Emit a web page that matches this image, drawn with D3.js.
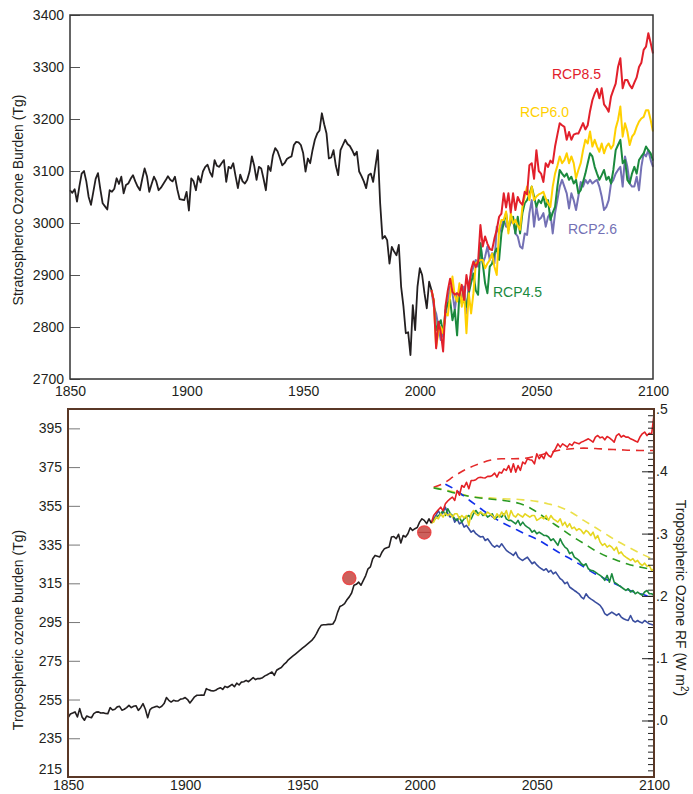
<!DOCTYPE html>
<html>
<head>
<meta charset="utf-8">
<script src="https://cdn.jsdelivr.net/npm/d3@7"></script>
<style>
body{margin:0;background:#fff;}
svg text{font-family:"Liberation Sans",Arial,Helvetica,sans-serif;font-size:14px;fill:#231f20;}
</style>
</head>
<body>
<svg id="chart" width="693" height="794"></svg>
<script>
// ---------- data ----------
var histStart = 1850, rcpStart = 2005;

var yearTicks  = [1850, 1900, 1950, 2000, 2050, 2100];
var stratTicks = [2700, 2800, 2900, 3000, 3100, 3200, 3300, 3400];
var tropTicks  = [215, 235, 255, 275, 295, 315, 335, 355, 375, 395];
var rfTicks    = [0, 0.1, 0.2, 0.3, 0.4, 0.5];

// stratospheric ozone burden (Tg), 1850-2005
var stratHist = [
 3063,3058,3065,3041,3070,3095,3100,3080,3050,3035,
 3060,3085,3096,3065,3038,3032,3026,3063,3060,3066,
 3086,3075,3089,3057,3073,3076,3085,3092,3080,3070,
 3063,3085,3105,3090,3060,3075,3089,3080,3063,3068,
 3075,3082,3090,3083,3080,3089,3065,3046,3045,3044,
 3060,3024,3086,3080,3063,3090,3078,3099,3108,3112,
 3098,3089,3121,3110,3108,3115,3121,3079,3108,3105,
 3115,3090,3067,3093,3080,3076,3083,3099,3128,3110,
 3083,3108,3105,3085,3063,3110,3100,3130,3144,3138,
 3125,3111,3115,3123,3126,3128,3150,3156,3155,3150,
 3134,3099,3124,3115,3140,3160,3172,3178,3211,3190,
 3172,3124,3126,3140,3110,3092,3140,3150,3160,3152,
 3148,3140,3130,3137,3099,3090,3080,3067,3092,3095,
 3079,3110,3140,3038,2970,2975,2967,2922,2954,2945,
 2938,2958,2877,2839,2788,2790,2746,2842,2794,2877,
 2913,2900,2865,2836,2887,2871];

// stratospheric projections, 2005-2100
var stratRcp85 = [
 2871,2850,2759,2810,2790,
 2753,2839,2870,2893,2868,2862,2865,2860,2881,2852,
 2900,2870,2910,2926,2915,2925,2996,2955,2974,2960,
 2950,2948,2970,2987,3012,3018,3057,3030,3057,3020,
 3057,3025,3050,3040,3035,3060,3055,3111,3115,3085,
 3140,3100,3095,3079,3115,3108,3120,3115,3147,3170,
 3192,3188,3185,3160,3175,3160,3170,3172,3172,3182,
 3192,3180,3188,3215,3236,3249,3258,3240,3259,3228,
 3222,3214,3243,3256,3268,3300,3317,3259,3275,3275,
 3265,3259,3270,3280,3300,3308,3333,3339,3365,3346,
 3326];
var stratRcp60 = [
 2871,2850,2762,2790,2800,
 2788,2826,2822,2860,2897,2860,2849,2884,2839,2865,
 2788,2865,2826,2865,2922,2926,2929,2929,2913,2922,
 2929,2941,2916,2900,2987,3006,3006,3022,2980,3019,
 2999,3006,2995,2987,3031,3051,3070,3044,3070,3044,
 3051,3055,3057,3060,3047,3038,3031,3070,3095,3110,
 3128,3115,3121,3134,3115,3128,3115,3086,3102,3115,
 3140,3160,3153,3176,3147,3160,3147,3137,3153,3134,
 3147,3153,3143,3150,3182,3198,3224,3166,3192,3176,
 3150,3166,3172,3185,3195,3201,3204,3217,3217,3198,
 3176];
var stratRcp45 = [
 2871,2850,2794,2805,2813,
 2788,2832,2845,2852,2813,2833,2784,2865,2845,2852,
 2839,2865,2885,2903,2870,2862,2961,2922,2884,2865,
 2916,2922,2942,2951,2929,2980,3000,3019,2987,3006,
 3012,2980,3012,2980,3019,3038,3044,3055,3070,3051,
 3031,3044,3038,3051,3031,3044,3006,3020,3031,3070,
 3102,3095,3089,3095,3083,3089,3076,3083,3057,3063,
 3079,3095,3115,3134,3128,3108,3095,3083,3092,3102,
 3083,3089,3076,3102,3140,3150,3160,3115,3121,3083,
 3076,3095,3108,3095,3121,3128,3134,3147,3140,3134,
 3120];
var stratRcp26 = [
 2871,2839,2826,2800,2775,
 2788,2820,2850,2878,2865,2833,2865,2852,2858,2878,
 2826,2884,2900,2916,2929,2916,2961,2922,2935,2955,
 2929,2942,2922,2993,2980,2993,3006,2993,2993,3000,
 3006,2980,2974,2955,2951,2980,2977,3019,3044,2993,
 3031,3006,3010,3019,2993,3012,3019,2980,3019,3044,
 3070,3083,3070,3057,3028,3057,3044,3025,3051,3079,
 3070,3083,3076,3083,3076,3080,3083,3070,3051,3025,
 3031,3044,3076,3083,3095,3102,3108,3070,3128,3108,
 3076,3070,3070,3089,3063,3108,3134,3128,3140,3121,
 3108];

// tropospheric ozone burden (Tg), 1850-2005
var tropHist = [
 245.6,247.5,248,248.6,246,250.3,246,244.3,246.5,246,
 245.6,247.7,248.5,248.6,248,248.2,247.8,247.7,250.8,249.6,
 250,251.2,251.5,249.5,250,250.8,252,250.8,251.5,251.8,
 249.4,250.8,252.9,250,245.6,249.8,250.8,251.2,251.5,250.8,
 251.5,252.9,256,254.6,253.7,254.6,254.2,254.3,255.2,255.4,
 256,255,253.2,254.8,256.4,257.2,257.2,257.3,257.2,260.6,
 260,259.6,259.4,259.8,260.6,261.1,260.2,261.8,261.2,262,
 262.8,261.6,263.5,262.5,264,264.2,264.9,264.2,265.3,266.3,
 265.3,265.8,265.8,266.3,267.2,267.8,268.5,269.2,267.5,270.1,
 270.9,271.5,273,274,275.5,276.5,277.5,278.5,279.5,280.5,
 281.5,282.5,283.5,284.5,285.5,287,289,291.5,293.3,293.6,
 293.6,293.8,293.8,294,296,300,303,303.6,304.5,306.5,
 308,310,314,314.5,315.6,314,316.5,319,322.5,323.5,
 327.7,329.4,329,328.6,331.2,332.9,333.4,333.8,338.9,339.2,
 338,340.3,335.8,339.7,338.9,340.6,343.7,342.3,343.2,343.8,
 346.6,348.3,347.5,345.8,348.3,346.1];

// tropospheric projections (solid), 2005-2100
var tropRcp85 = [
 346.1,350,351.5,353,354.3,
 352.5,356.1,357.5,358.6,359.5,357.8,362.9,360.5,365.5,364.6,
 367.2,363.8,368.1,368.1,368.5,369.5,369.8,369.5,369.4,370.2,
 370.2,370.7,371.9,369.8,372.4,371.9,374.1,373.3,375.8,372.4,
 376.7,372.4,375.8,373.3,377.6,376.7,379.3,378.8,378.5,376.7,
 381.9,379.3,381,379.3,382.7,381,380.2,382.7,384.5,387,
 385.3,387,386.2,385.3,387,386.2,387.9,387.4,387,387.9,
 388.4,389,389.6,388.8,387.9,390.5,391.3,390.1,390.5,389.1,
 390.8,390.1,389.1,387.9,391.3,392.2,390.5,391.3,390.5,390.5,
 389.6,389.1,388.5,387.9,390.5,392.2,393.1,391.3,392.5,392.2,
 402];
var tropRcp60 = [
 346.1,346.6,349.2,348.3,350.9,
 349.2,351.2,350,350.9,349.2,350.9,350.9,348.3,350,348.8,
 350,344.9,350.9,352.6,350.9,350,351.8,350.9,350,351.8,
 350.9,350,348.3,350.9,349.2,351.8,350,352.6,348.3,352.6,
 350,349.2,350.9,350,349.2,350.9,350,349.2,350,350,
 347.5,348.3,349.2,348.3,350,347.5,350,348.3,347.5,346.6,
 348.3,344.9,346.6,344,345.8,343.2,344,342.3,343.2,342.3,
 340.6,342.3,341.4,339.7,341.4,338,339.7,336.3,334.6,335.5,
 333.7,334.6,333.7,332,333.7,330.3,331.2,329.4,328.5,327.7,
 326.8,327.7,326,326.8,325.1,324.2,325.4,323.8,324.2,321.7,
 322.5];
var tropRcp45 = [
 346.1,347.5,348.8,350,350.9,
 352.6,350,353.5,351.2,350,348.3,347.5,349.2,346.6,348.3,
 349.2,350,348.3,350.9,352.6,350.9,351.8,350,350.9,349.2,
 350,350.9,348.3,349.2,350,349.2,350.9,348.3,347.5,347.5,
 346.6,345.7,347.5,344.9,346.6,344.9,344,343.2,341.4,342.3,
 340.6,341.4,340.6,339.7,339.7,338.9,337.1,338,336.3,334.6,
 338,335.4,333.7,332.8,330.3,331.1,328.5,327.7,326.8,325.1,
 324.2,325.1,322.5,321.7,321.5,320.8,319.9,319.1,318.2,316.5,
 319.1,315.6,319.9,315.6,314.8,313.9,313.1,312.2,311.3,312.2,
 310.5,311.3,309.6,310.5,309.6,308.8,310.5,311.3,309.6,309.6,
 308.8];
var tropRcp26 = [
 346.1,348.3,350,352.6,350,
 351.8,354.3,350.9,349.2,350,346.6,348.3,345.7,346.6,344,
 344.9,343.2,341.4,342.3,340.6,339.7,338.9,339.2,337.1,338,
 336.3,334.6,333.7,334.6,333.7,335.4,333.7,332,331.1,330.3,
 329.4,331.1,328.5,327.5,326.8,327.7,328.5,326.8,325.1,326,
 324.5,323.4,322.5,321.7,322.5,320.8,321.7,319.9,320.8,319.1,
 317.4,316.5,314.8,315.6,313.1,312.2,311.3,310.5,309.6,307.9,
 307,309.6,307.9,307,306.2,305.3,304.5,303.6,301.9,299.3,
 298.4,299.3,300.1,299.3,298.4,299.3,297.6,296.7,296.2,295.8,
 298.4,295.8,295,295.8,295,294.5,295.8,295,294.1,293.7,
 293.3];

// smooth (dashed) projections
var dashYears = [2006,2010,2015,2020,2025,2030,2035,2040,2045,2050,2055,2060,2065,2070,2075,2080,2085,2090,2095,2100];
var dashRcp85 = [364.6,366.5,370.5,374,376.5,378.5,379.3,379.3,379.6,380.8,382.4,383.8,384.5,384.8,384.6,384.2,384,383.7,383.6,383.6];
var dashRcp60 = [364.3,363.6,362,360.3,359.4,359.1,358.6,358.5,358,357.3,356,354.3,351.4,347.5,343.8,340,336.3,333.1,330,327.2];
var dashRcp45 = [364.3,363.2,361.6,360.2,359.2,358.5,357.9,357,355.2,351.8,347.5,343.5,339.3,335.6,331.8,328.8,326.5,324.5,323.2,322];
var dashYears26 = [2011,2015,2020,2025,2030,2035,2040,2045,2050,2055,2060,2065,2070,2075,2080,2085,2090,2095,2100];
var dashRcp26 = [366.2,363.5,359,354.5,350.2,346.5,343.5,340.5,337.8,334.2,330.5,327.2,323.5,319.8,316.8,313.8,311.2,309.3,307.5];

// observation markers
var obsYears  = [1970, 2002];
var obsValues = [317.7, 341.3];

var rcpNames = ["RCP8.5", "RCP6.0", "RCP4.5", "RCP2.6"];

// ---------- helpers ----------
function series(start, vals){
    return vals.map(function(v, i){ return [start + i, v]; });
}
function pairs(years, vals){
    return vals.map(function(v, i){ return [years[i], v]; });
}

var svg = d3.select("#chart");

// ---------- top panel : stratosphere ----------
var xTop = d3.scaleLinear().domain([1850, 2100]).range([70, 653]);
var yTop = d3.scaleLinear().domain([2700, 3400]).range([379, 15]);
var lineTop = d3.line().x(function(d){ return xTop(d[0]); }).y(function(d){ return yTop(d[1]); });

var gTop = svg.append("g").attr("class", "top");

var topSeries = [
    {name: rcpNames[3], vals: stratRcp26, color: "#7471b5"},
    {name: rcpNames[2], vals: stratRcp45, color: "#1b8a3e"},
    {name: rcpNames[1], vals: stratRcp60, color: "#ffd000"},
    {name: rcpNames[0], vals: stratRcp85, color: "#e2202b"}
];
topSeries.forEach(function(s){
    gTop.append("path")
        .datum(series(rcpStart, s.vals))
        .attr("d", lineTop)
        .attr("fill", "none")
        .attr("stroke", s.color)
        .attr("stroke-width", 2)
        .attr("stroke-linejoin", "round");
});
gTop.append("path")
    .datum(series(histStart, stratHist))
    .attr("d", lineTop)
    .attr("fill", "none")
    .attr("stroke", "#231f20")
    .attr("stroke-width", 1.8)
    .attr("stroke-linejoin", "round");

// scenario labels
var topLabelPos = {"RCP8.5": [552, 79], "RCP6.0": [520, 117], "RCP2.6": [568, 234], "RCP4.5": [493, 297]};
topSeries.forEach(function(s){
    gTop.append("text")
        .attr("x", topLabelPos[s.name][0])
        .attr("y", topLabelPos[s.name][1])
        .style("fill", s.color)
        .text(s.name);
});

// axes
gTop.append("g")
    .attr("transform", "translate(70,0)")
    .call(d3.axisLeft(yTop).tickValues(stratTicks).tickSize(-10).tickPadding(6).tickFormat(d3.format("d")))
    .call(function(g){ g.select(".domain").remove(); g.selectAll("line").attr("stroke", "#555"); });
gTop.append("g")
    .attr("transform", "translate(0,379)")
    .call(d3.axisBottom(xTop).tickValues(yearTicks).tickSize(0).tickPadding(7).tickFormat(d3.format("d")))
    .call(function(g){ g.select(".domain").remove(); });
gTop.selectAll(".tick text").style("font-size", "14px").attr("font-family", null);

gTop.append("rect")
    .attr("x", 70).attr("y", 15).attr("width", 583).attr("height", 364)
    .attr("fill", "none").attr("stroke", "#333").attr("stroke-width", 1.5);

gTop.append("text")
    .attr("transform", "translate(23,200) rotate(-90)")
    .attr("text-anchor", "middle")
    .text("Stratospheroc Ozone Burden (Tg)");

// ---------- bottom panel : troposphere ----------
var xBot = d3.scaleLinear().domain([1850, 2100]).range([68, 654]);
var yBot = d3.scaleLinear().domain([215, 405]).range([777, 409]);
var yRF  = d3.scaleLinear().domain([-0.0907, 0.5]).range([777, 409]);
var lineBot = d3.line().x(function(d){ return xBot(d[0]); }).y(function(d){ return yBot(d[1]); });
var smoothBot = d3.line().curve(d3.curveMonotoneX).x(function(d){ return xBot(d[0]); }).y(function(d){ return yBot(d[1]); });

var gBot = svg.append("g").attr("class", "bottom");

// dashed smooth projections
var dashSeries = [
    {data: pairs(dashYears, dashRcp85), color: "#e42a2a"},
    {data: pairs(dashYears, dashRcp60), color: "#ebe04a"},
    {data: pairs(dashYears, dashRcp45), color: "#2a9a22"},
    {data: pairs(dashYears26, dashRcp26), color: "#1230ea"}
];
dashSeries.forEach(function(s){
    gBot.append("path")
        .datum(s.data)
        .attr("d", smoothBot)
        .attr("fill", "none")
        .attr("stroke", s.color)
        .attr("stroke-width", 1.6)
        .attr("stroke-dasharray", "8,6");
});

// solid projections
var botSeries = [
    {vals: tropRcp26, color: "#3a4e9f"},
    {vals: tropRcp45, color: "#1b8a3e"},
    {vals: tropRcp60, color: "#e6d620"},
    {vals: tropRcp85, color: "#e42126"}
];
botSeries.forEach(function(s){
    gBot.append("path")
        .datum(series(rcpStart, s.vals))
        .attr("d", lineBot)
        .attr("fill", "none")
        .attr("stroke", s.color)
        .attr("stroke-width", 1.6)
        .attr("stroke-linejoin", "round");
});
gBot.append("path")
    .datum(series(histStart, tropHist))
    .attr("d", lineBot)
    .attr("fill", "none")
    .attr("stroke", "#231f20")
    .attr("stroke-width", 1.6)
    .attr("stroke-linejoin", "round");

// observations
obsYears.forEach(function(yr, i){
    gBot.append("circle")
        .attr("cx", xBot(yr)).attr("cy", yBot(obsValues[i])).attr("r", 6.5)
        .attr("fill", "#cc615c").attr("stroke", "#ea4a4a").attr("stroke-width", 1.5);
});
gBot.append("line")
    .attr("x1", xBot(obsYears[1]) - 6).attr("x2", xBot(obsYears[1]) + 6)
    .attr("y1", yBot(obsValues[1])).attr("y2", yBot(obsValues[1]))
    .attr("stroke", "#b8413e").attr("stroke-width", 1);

// axes
gBot.append("g")
    .attr("transform", "translate(68,0)")
    .call(d3.axisLeft(yBot).tickValues(tropTicks).tickSize(-12).tickPadding(6))
    .call(function(g){
        g.select(".domain").remove();
        g.selectAll("line").attr("stroke", "#777");
        // lowest label sits just above the year labels
        g.selectAll(".tick text").filter(function(d){ return d === 215; }).attr("dy", "-0.22em");
    });
gBot.append("g")
    .attr("transform", "translate(0,777)")
    .call(d3.axisBottom(xBot).tickValues(yearTicks).tickSize(0).tickPadding(3).tickFormat(d3.format("d")))
    .call(function(g){ g.select(".domain").remove(); });
// right axis: minor ticks every 0.01, majors every 0.1
gBot.append("g")
    .attr("transform", "translate(654,0)")
    .call(d3.axisRight(yRF).tickValues(d3.range(-9, 51).map(function(k){ return k / 100; })).tickSize(-6).tickFormat(""))
    .call(function(g){ g.select(".domain").remove(); g.selectAll("line").attr("stroke", "#222"); });
gBot.append("g")
    .attr("transform", "translate(654,0)")
    .call(d3.axisRight(yRF).tickValues(rfTicks).tickSize(-12).tickPadding(2)
        .tickFormat(function(d){ return d3.format(".1f")(d).replace(/^0/, ""); }))
    .call(function(g){ g.select(".domain").remove(); g.selectAll("line").attr("stroke", "#222"); });
gBot.selectAll(".tick text").style("font-size", "14px").attr("font-family", null);

gBot.append("rect")
    .attr("x", 68).attr("y", 409).attr("width", 586).attr("height", 368)
    .attr("fill", "none").attr("stroke", "#5a3826").attr("stroke-width", 2);

gBot.append("text")
    .attr("transform", "translate(23,630) rotate(-90)")
    .attr("text-anchor", "middle")
    .text("Tropospheric ozone burden (Tg)");

var rfLabel = gBot.append("text")
    .attr("transform", "translate(676,598) rotate(90)")
    .attr("text-anchor", "middle");
rfLabel.append("tspan").text("Tropospheric Ozone RF (W m");
rfLabel.append("tspan").attr("dy", -5).style("font-size", "10px").text("2");
rfLabel.append("tspan").attr("dy", 5).text(")");
</script>
</body>
</html>
